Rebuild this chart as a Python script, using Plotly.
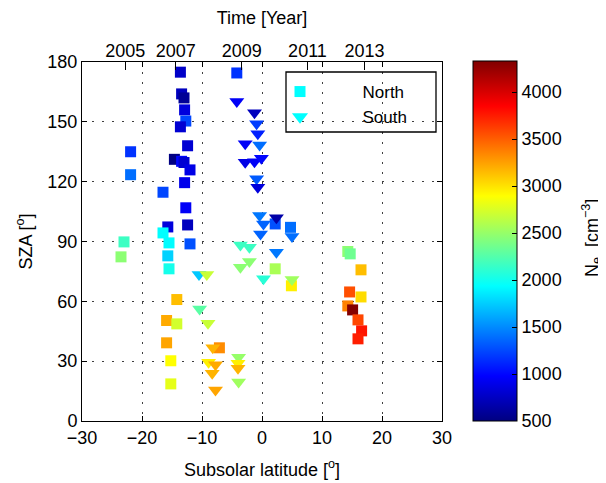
import plotly.graph_objects as go

# ---------------- data ----------------
north_lat = [-13.6, -13.4, -13.0, -12.9, -12.7, -13.6, -12.4, -21.9, -14.6, -13.4,
             -13.0, -12.0, -21.9, -12.9, -16.5, -12.7, -15.7, -12.4, -16.5, -23.0,
             -15.5, -12.0, -23.5, -15.7, -15.5, -14.2, -15.9, -14.2, -15.9, -15.2,
             -15.2, -4.2, 2.2, 4.75, 2.2, 4.9, -7.1, 14.3, 14.7, 16.5,
             14.6, 16.5, 14.3, 15.1, 16.0, 16.6, 16.0]
north_sza = [174.9, 164.0, 162.0, 156.0, 150.4, 147.5, 138.0, 135.0, 131.2, 130.2,
             129.6, 125.9, 123.5, 119.5, 114.7, 106.9, 97.3, 98.3, 94.3, 89.8,
             89.3, 88.8, 82.3, 82.8, 76.3, 60.9, 50.4, 48.7, 39.2, 30.2,
             18.6, 174.5, 98.8, 97.1, 76.3, 67.8, 36.7, 85.0, 83.8, 75.8,
             64.7, 62.2, 57.7, 55.7, 50.7, 45.2, 41.2]
north_ne = [771, 734, 583, 847, 1242, 809, 809, 1167, 508, 1000,
            809, 884, 1393, 905, 1242, 950, 847, 734, 1936, 2163,
            1930, 1278, 2461, 1768, 2011, 3138, 3213, 2726, 3232, 2894,
            2800, 1167, 1278, 1393, 2576, 2950, 3327, 2461, 2350, 3138,
            3553, 3024, 3365, 4315, 3588, 3776, 3740]

south_lat = [-4.2, -1.25, -0.9, -0.7, -2.8, -0.4, -2.8, -1.25, -0.1, -0.9,
             -0.7, -0.4, 2.4, 0.25, -0.25, 5.0, -3.6, -2.1, 2.4, -2.1,
             -3.6, -10.5, -9.2, 0.25, 5.0, -10.4, -9.0, -8.2, -3.9, -8.9,
             -7.75, -4.0, -4.0, -8.3, -3.9, -7.75]
south_sza = [160.2, 154.5, 149.0, 144.0, 139.0, 138.4, 129.7, 130.0, 131.7, 121.4,
             117.2, 103.0, 101.9, 98.8, 93.8, 92.5, 88.3, 87.1, 84.6, 80.0,
             77.1, 73.4, 73.4, 71.3, 70.9, 56.2, 49.0, 36.7, 32.0, 29.5,
             28.2, 29.0, 26.5, 24.0, 19.5, 15.6]
south_ne = [950, 734, 1205, 1100, 950, 1393, 884, 950, 1000, 1316,
            847, 1431, 650, 1350, 1350, 1393, 2163, 2163, 1431, 2461,
            2461, 1730, 2688, 2086, 2537, 2275, 2688, 3177, 2499, 2950,
            3213, 2950, 3177, 3177, 2537, 3232]

year_pos = [-22.8, -14.37, -3.37, 7.58, 17.08]
year_labels = ["2005", "2007", "2009", "2011", "2013"]

x_ticks = [-30, -20, -10, 0, 10, 20, 30]
y_ticks = [0, 30, 60, 90, 120, 150, 180]
cb_ticks = [500, 1000, 1500, 2000, 2500, 3000, 3500, 4000]
ne_min, ne_max = 500, 4330

# ---------------- style ----------------
jet = [[0.0, "rgb(0,0,128)"], [0.125, "rgb(0,0,255)"], [0.375, "rgb(0,255,255)"],
       [0.625, "rgb(255,255,0)"], [0.875, "rgb(255,0,0)"], [1.0, "rgb(128,0,0)"]]
FONT = "Liberation Sans, Arial, Helvetica, sans-serif"
FS = 18
W, H = 606, 483
OFF = 8                      # page body margin offset
L, T = 82 - OFF, 62 - OFF    # plot area starts at page (82, 62)
PW, PH = 360, 359
R, B = W - L - PW, H - T - PH


def px_x(p):                 # page pixel -> paper fraction
    return (p - OFF - L) / PW


def px_y(p):
    return (T + PH - (p - OFF)) / PH


fig = go.Figure()

fig.add_trace(go.Scatter(
    x=north_lat, y=north_sza, mode="markers", showlegend=False,
    marker=dict(symbol="square", size=11, color=north_ne, colorscale=jet,
                cmin=ne_min, cmax=ne_max, line=dict(width=0),
                colorbar=dict(
                    x=px_x(473), xanchor="left",
                    y=0, yanchor="bottom",
                    lenmode="pixels", len=360, thickness=44,
                    xpad=0, ypad=0,
                    outlinewidth=1, outlinecolor="black",
                    tickvals=cb_ticks, ticks="inside", ticklen=5, tickcolor="black",
                    tickfont=dict(family=FONT, size=FS, color="black"),
                )),
))
fig.add_trace(go.Scatter(
    x=south_lat, y=south_sza, mode="markers", showlegend=False,
    marker=dict(symbol="triangle-down", size=13, color=south_ne, colorscale=jet,
                cmin=ne_min, cmax=ne_max, line=dict(width=0)),
))
# legend entries
PAD = "\u00a0" * 9
fig.add_trace(go.Scatter(x=[None], y=[None], mode="markers", name=PAD + "North",
                         marker=dict(symbol="square", size=11, color="rgb(0,255,255)")))
fig.add_trace(go.Scatter(x=[None], y=[None], mode="markers", name=PAD + "South",
                         marker=dict(symbol="triangle-down", size=14, color="rgb(0,255,255)")))
# top year axis carrier
fig.add_trace(go.Scatter(x=[-30, 30], y=[-10, -10], xaxis="x2", mode="markers",
                         marker=dict(opacity=0), showlegend=False, hoverinfo="skip"))

axis_common = dict(showline=True, linecolor="black", linewidth=1, mirror="ticks",
                   ticks="inside", ticklen=5, tickcolor="black", automargin=False,
                   tickfont=dict(family=FONT, size=FS, color="black"),
                   showgrid=True, gridcolor="rgba(0,0,0,0.75)", gridwidth=1.2,
                   griddash="1.5px,8.5px", zeroline=False)

fig.update_layout(
    width=W, height=H,
    margin=dict(l=L, r=R, t=T, b=B, autoexpand=False),
    paper_bgcolor="white", plot_bgcolor="white",
    font=dict(family=FONT, size=FS, color="black"),
    xaxis=dict(range=[-30, 30], tickvals=x_ticks, **axis_common,
               title=dict(text="Subsolar latitude [<sup>o</sup>]", standoff=16,
                          font=dict(family=FONT, size=FS))),
    yaxis=dict(range=[0, 180], tickvals=y_ticks, **axis_common,
               title=dict(text="SZA [<sup>o</sup>]", standoff=10,
                          font=dict(family=FONT, size=FS))),
    xaxis2=dict(overlaying="x", side="top", anchor="y", range=[-30, 30],
                tickvals=year_pos, ticktext=year_labels, ticks="inside", ticklen=8,
                tickcolor="black", showgrid=False, zeroline=False, showline=False,
                automargin=False,
                tickfont=dict(family=FONT, size=FS, color="black"),
                title=dict(text="Time [Year]", standoff=14,
                           font=dict(family=FONT, size=FS))),
    legend=dict(x=px_x(280), y=px_y(74),
                xanchor="left", yanchor="top",
                borderwidth=0, bgcolor="rgba(0,0,0,0)",
                font=dict(family=FONT, size=17, color="black"),
                itemwidth=30, tracegroupgap=0),
    shapes=[dict(type="rect", xref="paper", yref="paper",
                 x0=px_x(286), x1=px_x(436), y0=px_y(132), y1=px_y(72),
                 line=dict(color="black", width=1.3), fillcolor="white", layer="below")],
    annotations=[dict(text="N<sub>e</sub>  [cm<sup>−3</sup>]", textangle=-90,
                      xref="paper", yref="paper", x=px_x(591), y=px_y(238),
                      xanchor="center", yanchor="middle", showarrow=False,
                      font=dict(family=FONT, size=FS, color="black"))],
)

fig.write_html("out.html")
